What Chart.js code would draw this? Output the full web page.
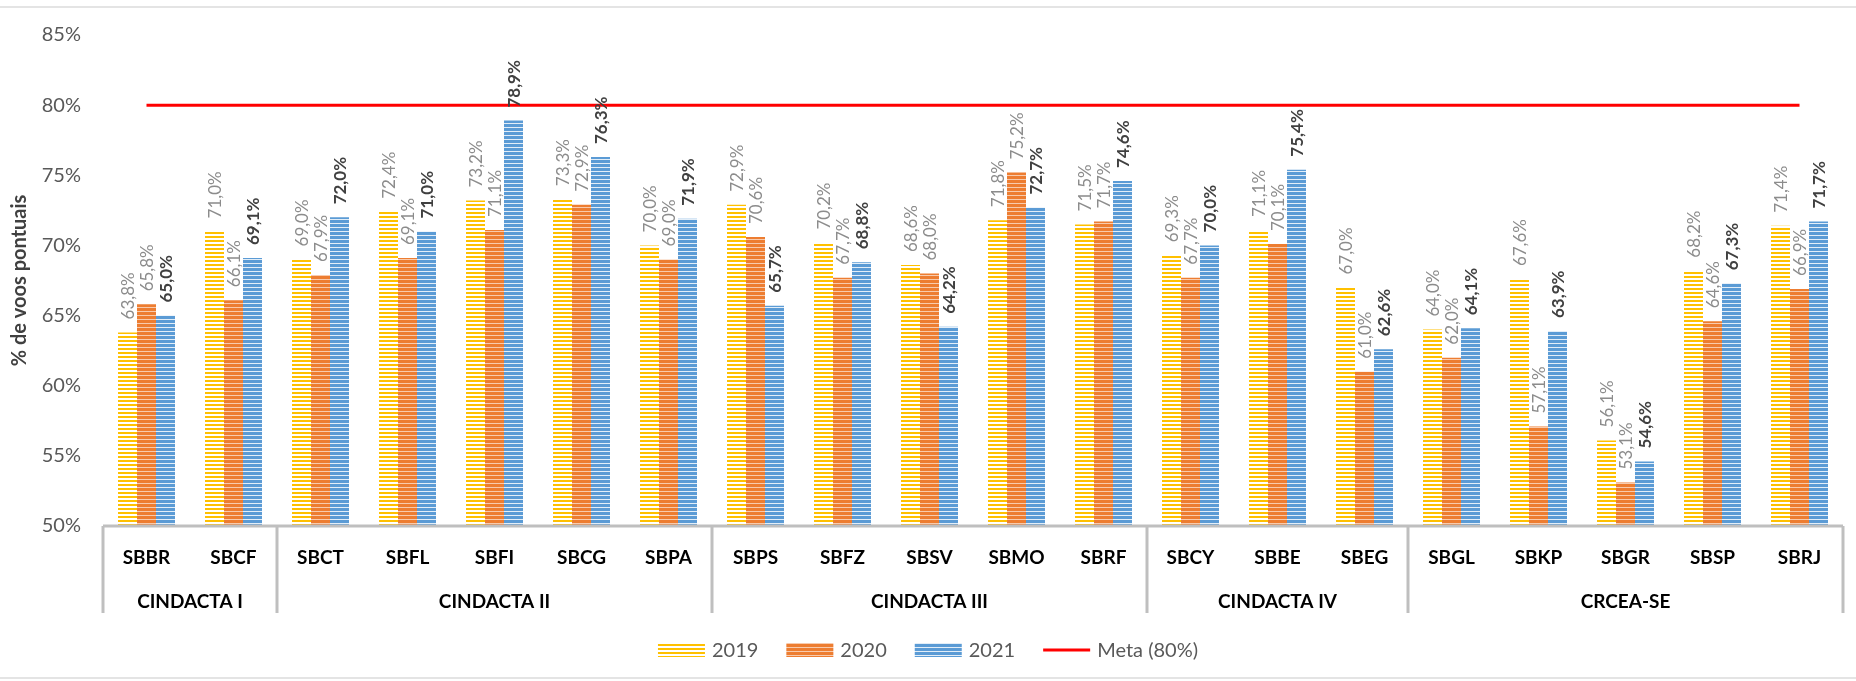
<!DOCTYPE html>
<html>
<head>
<meta charset="utf-8">
<script src="https://cdn.jsdelivr.net/npm/chart.js@4.4.1/dist/chart.umd.min.js"></script>
<style>
  html, body { margin: 0; padding: 0; background: #ffffff; }
  #wrap { width: 1856px; height: 681px; }
</style>
</head>
<body>
<div id="wrap"><canvas id="pontChart" width="1856" height="681"></canvas></div>
<script>
const airports = ['SBBR', 'SBCF', 'SBCT', 'SBFL', 'SBFI', 'SBCG', 'SBPA', 'SBPS', 'SBFZ', 'SBSV',
                  'SBMO', 'SBRF', 'SBCY', 'SBBE', 'SBEG', 'SBGL', 'SBKP', 'SBGR', 'SBSP', 'SBRJ'];
const groups = ['CINDACTA I', 'CINDACTA II', 'CINDACTA III', 'CINDACTA IV', 'CRCEA-SE'];
const groupSizes = [2, 5, 5, 3, 5];

const v2019 = [63.8, 71.0, 69.0, 72.4, 73.2, 73.3, 70.0, 72.9, 70.2, 68.6,
               71.8, 71.5, 69.3, 71.1, 67.0, 64.0, 67.6, 56.1, 68.2, 71.4];
const v2020 = [65.8, 66.1, 67.9, 69.1, 71.1, 72.9, 69.0, 70.6, 67.7, 68.0,
               75.2, 71.7, 67.7, 70.1, 61.0, 62.0, 57.1, 53.1, 64.6, 66.9];
const v2021 = [65.0, 69.1, 72.0, 71.0, 78.9, 76.3, 71.9, 65.7, 68.8, 64.2,
               72.7, 74.6, 70.0, 75.4, 62.6, 64.1, 63.9, 54.6, 67.3, 71.7];
const meta = airports.map(() => 80);

const yTicks = [50, 55, 60, 65, 70, 75, 80, 85];
const FONT = 'Lato, "Open Sans", sans-serif';

// horizontal striped fill like the excel pattern
function stripes(color, light, on, off) {
    const c = document.createElement('canvas');
    c.width = 8;
    c.height = on + off;
    const g = c.getContext('2d');
    g.fillStyle = light;
    g.fillRect(0, 0, 8, on + off);
    g.fillStyle = color;
    g.fillRect(0, 0, 8, on);
    return g.createPattern(c, 'repeat');
}

const ctx = document.getElementById('pontChart').getContext('2d');
const fill2019 = stripes('#FFC000', '#ffffff', 2, 2);
const fill2020 = stripes('#ED7D31', '#f8cbad', 3, 1);
const fill2021 = stripes('#5B9BD5', '#e3eef8', 3, 1);

function fmt(v) {
    return v.toFixed(1).replace('.', ',') + '%';
}

const barLabels = {
    id: 'barLabels',
    afterDatasetsDraw(chart) {
        const c = chart.ctx;
        chart.data.datasets.forEach((ds, i) => {
            if (ds.type === 'line') return;
            const meta = chart.getDatasetMeta(i);
            meta.data.forEach((bar, j) => {
                c.save();
                c.translate(bar.x + 1, bar.y - 13);
                c.rotate(-Math.PI / 2);
                c.font = (ds.label === '2021' ? 'bold ' : '') + '17px ' + FONT;
                c.fillStyle = ds.label === '2021' ? '#404040' : '#8c8c8c';
                c.textAlign = 'left';
                c.textBaseline = 'middle';
                c.fillText(fmt(ds.data[j]), 0, 0);
                c.restore();
            });
        });
    }
};

const groupAxis = {
    id: 'groupAxis',
    afterDraw(chart) {
        const c = chart.ctx;
        const x = chart.scales.x;
        const area = chart.chartArea;
        const bottom = 613;
        c.save();
        // frame lines of the picture
        c.strokeStyle = '#e4e4e4';
        c.lineWidth = 2;
        c.beginPath();
        c.moveTo(0, 7); c.lineTo(1856, 7);
        c.moveTo(0, 678); c.lineTo(1856, 678);
        c.stroke();

        c.strokeStyle = '#bfbfbf';
        c.lineWidth = 3;
        c.beginPath();
        c.moveTo(area.left, area.bottom);
        c.lineTo(area.right, area.bottom);
        c.stroke();

        const half = (x.getPixelForValue(1) - x.getPixelForValue(0)) / 2;
        let start = 0;
        c.font = 'bold 19px ' + FONT;
        c.fillStyle = '#000000';
        c.textAlign = 'center';
        c.textBaseline = 'middle';
        c.beginPath();
        c.moveTo(area.left, area.bottom);
        c.lineTo(area.left, bottom);
        groups.forEach((g, k) => {
            const end = start + groupSizes[k] - 1;
            const x0 = x.getPixelForValue(start) - half;
            const x1 = x.getPixelForValue(end) + half;
            c.moveTo(x1, area.bottom);
            c.lineTo(x1, bottom);
            c.fillText(g, (x0 + x1) / 2, 602);
            start = end + 1;
        });
        c.stroke();

        // legend
        const items = chart.data.datasets.map(ds => ({ label: ds.label, ds }));
        c.font = '20px ' + FONT;
        const boxW = 47, gap = 7, space = 28;
        let total = 0;
        items.forEach((it, k) => {
            it.w = c.measureText(it.label).width;
            total += boxW + gap + it.w + (k < items.length - 1 ? space : 0);
        });
        let lx = chart.width / 2 - total / 2;
        const ly = 650;
        items.forEach(it => {
            if (it.ds.type === 'line') {
                c.strokeStyle = it.ds.borderColor;
                c.lineWidth = 3;
                c.beginPath();
                c.moveTo(lx, ly);
                c.lineTo(lx + boxW, ly);
                c.stroke();
            } else {
                c.fillStyle = it.ds.backgroundColor;
                c.fillRect(lx, ly - 7, boxW, 14);
            }
            c.fillStyle = '#595959';
            c.textAlign = 'left';
            c.fillText(it.label, lx + boxW + gap, ly + 1);
            lx += boxW + gap + it.w + space;
        });
        c.restore();
    }
};

const pontChart = new Chart(ctx, {
    type: 'bar',
    data: {
        labels: airports,
        datasets: [
            { label: '2019', data: v2019, backgroundColor: fill2019, order: 1 },
            { label: '2020', data: v2020, backgroundColor: fill2020, order: 1 },
            { label: '2021', data: v2021, backgroundColor: fill2021, order: 1 },
            { type: 'line', label: 'Meta (80%)', data: meta, borderColor: '#ff0000', borderWidth: 3,
              pointRadius: 0, fill: false, order: 0 }
        ]
    },
    options: {
        responsive: false,
        devicePixelRatio: 1,
        animation: false,
        layout: { padding: { top: 35, right: 13, left: 0, bottom: 0 } },
        datasets: {
            bar: { barPercentage: 1, categoryPercentage: 0.655 }
        },
        scales: {
            y: {
                min: 50,
                max: 85,
                afterFit: function(scale) { scale.width = 103; },
                afterBuildTicks: function(scale) { scale.ticks = yTicks.map(v => ({ value: v })); },
                grid: { display: false, drawTicks: false },
                border: { display: false },
                ticks: {
                    padding: 22,
                    color: '#595959',
                    font: { family: FONT, size: 20 },
                    callback: function(value) { return value + '%'; }
                },
                title: {
                    display: true,
                    text: '% de voos pontuais',
                    color: '#404040',
                    padding: { top: 8, bottom: 0 },
                    font: { family: FONT, size: 20, weight: 'bold' }
                }
            },
            x: {
                afterFit: function(scale) { scale.height = 155; },
                grid: { display: false, drawTicks: false },
                border: { display: false },
                ticks: {
                    padding: 20,
                    color: '#000000',
                    maxRotation: 0,
                    autoSkip: false,
                    font: { family: FONT, size: 19, weight: 'bold' }
                }
            }
        },
        plugins: {
            legend: { display: false },
            tooltip: { enabled: false }
        }
    },
    plugins: [barLabels, groupAxis]
});
</script>
</body>
</html>
